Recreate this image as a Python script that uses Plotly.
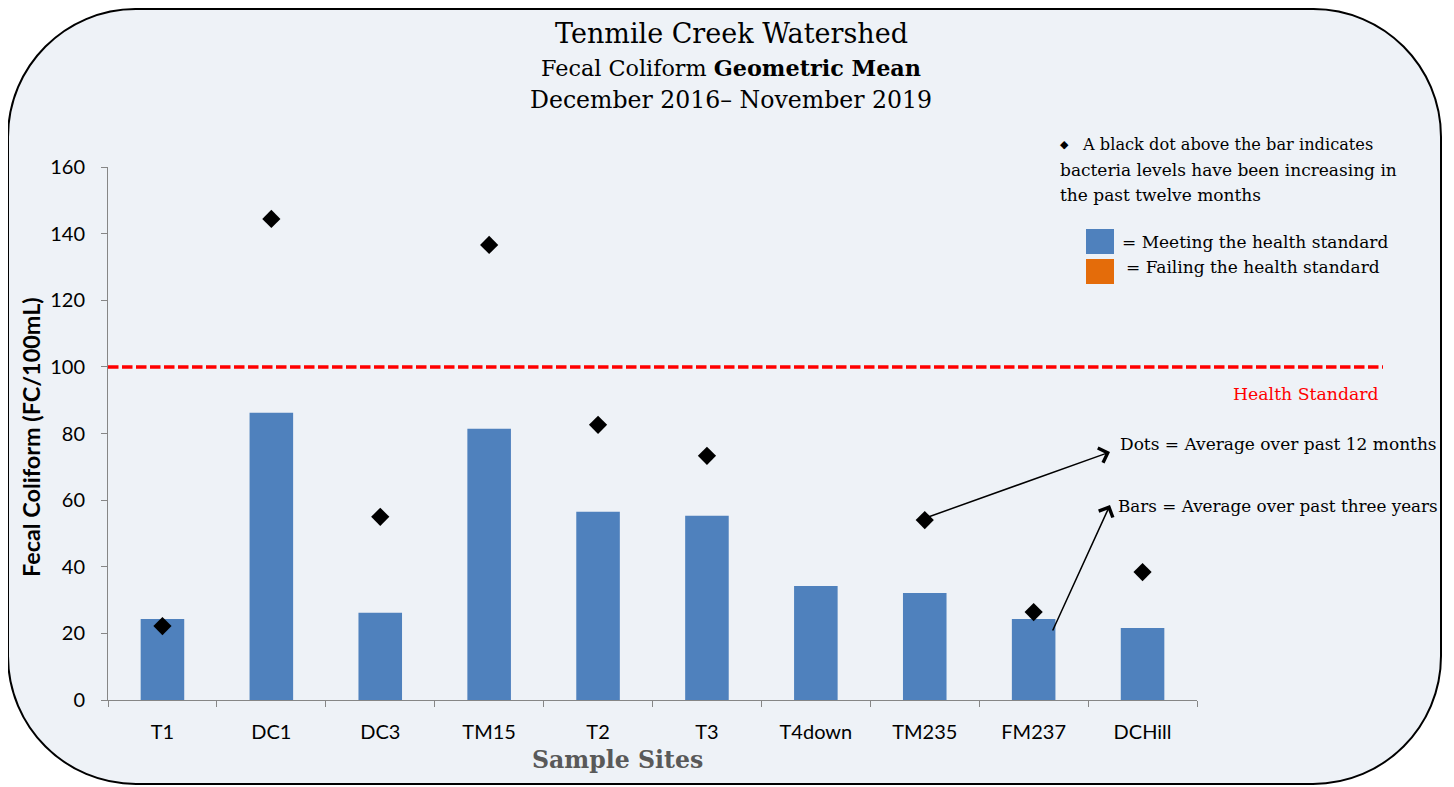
import plotly.graph_objects as go

sites = ["T1", "DC1", "DC3", "TM15", "T2", "T3", "T4down", "TM235", "FM237", "DCHill"]
bars_3yr = [24.3, 86.2, 26.2, 81.4, 56.5, 55.3, 34.2, 32.1, 24.3, 21.6]
dots_12mo = [22.2, 144.4, 55.0, 136.6, 82.6, 73.3, None, 54.0, 26.4, 38.4]
y_ticks = [0, 20, 40, 60, 80, 100, 120, 140, 160]
health_standard = 100

OFF = 8  # page body margin
W, H = 1454 - OFF, 787 - OFF
L, R, T, B = 108, 1197, 167, 700  # plot area in screen pixels


def px(x):
    return (x - L) / (R - L)


def py(y):
    return (B - y) / (B - T)


BLUE = "#4f81bd"
ORANGE = "#e46c0a"
AXIS = "#868686"
SERIF = "DejaVu Serif"
SANS = "Lato"

fig = go.Figure()
fig.add_trace(go.Bar(x=sites, y=bars_3yr, marker=dict(color=BLUE, line=dict(width=0)),
                     width=0.4, showlegend=False, hoverinfo="x+y"))
fig.add_trace(go.Scatter(x=sites, y=dots_12mo, mode="markers",
                         marker=dict(symbol="diamond", color="black", size=14),
                         showlegend=False))

# rounded background frame
x0, x1, y0, y1, r = 8, 1441, 9, 784, 128
k = 0.5523 * r
pts = [
    ("M", [(x0 + r, y0)]),
    ("L", [(x1 - r, y0)]),
    ("C", [(x1 - r + k, y0), (x1, y0 + r - k), (x1, y0 + r)]),
    ("L", [(x1, y1 - r)]),
    ("C", [(x1, y1 - r + k), (x1 - r + k, y1), (x1 - r, y1)]),
    ("L", [(x0 + r, y1)]),
    ("C", [(x0 + r - k, y1), (x0, y1 - r + k), (x0, y1 - r)]),
    ("L", [(x0, y0 + r)]),
    ("C", [(x0, y0 + r - k), (x0 + r - k, y0), (x0 + r, y0)]),
]
path = ""
for cmd, ps in pts:
    path += cmd + " ".join(f"{px(a):.5f},{py(b):.5f}" for a, b in ps) + " "
path += "Z"

shapes = [
    dict(type="path", path=path, xref="paper", yref="paper", layer="below",
         fillcolor="#eef2f7", line=dict(color="black", width=2)),
    dict(type="line", xref="paper", yref="y", x0=0, x1=px(1383), y0=health_standard,
         y1=health_standard, line=dict(color="#ff0000", width=3.5, dash="10.5px,3.5px")),
    dict(type="rect", xref="paper", yref="paper", x0=px(1086), x1=px(1114), y0=py(254), y1=py(229),
         fillcolor=BLUE, line=dict(width=0)),
    dict(type="rect", xref="paper", yref="paper", x0=px(1086), x1=px(1114), y0=py(284), y1=py(259),
         fillcolor=ORANGE, line=dict(width=0)),
]

ann = []


def text(x, y, s, size, color="black", family=SERIF, xanchor="center", **kw):
    ann.append(dict(x=px(x), y=py(y), xref="paper", yref="paper", text=s, showarrow=False,
                    xanchor=xanchor, yanchor="middle", font=dict(size=size, color=color, family=family), **kw))


text(731, 33, "Tenmile Creek Watershed", 27)
text(731, 68, "Fecal Coliform <b>Geometric Mean</b>", 22.3)
text(731, 100, "December 2016– November 2019", 23.6)
text(1058, 145, "◆", 11, xanchor="left")
text(1080, 145, "A black dot above the bar indicates", 16.2, xanchor="left")
text(1058, 170, "bacteria levels have been increasing in", 17, xanchor="left")
text(1058, 195, "the past twelve months", 17, xanchor="left")
text(1120, 242, "= Meeting the health standard", 17, xanchor="left")
text(1124, 267, "= Failing the health standard", 17, xanchor="left")
text(1306, 394, "Health Standard", 17.3, color="#ff0000")
text(1118, 444, "Dots = Average over past 12 months", 17, xanchor="left")
text(1116, 506, "Bars = Average over past three years", 16.8, xanchor="left")
text(617, 760, "<b>Sample Sites</b>", 23.6, color="#595959")
text(31, 437, "<b>Fecal Coliform (FC/100mL)</b>", 23.4, family=SANS, textangle=-90)

# arrows
ann.append(dict(xref="paper", yref="paper", axref="pixel", ayref="pixel",
                x=px(1110), y=py(452), ax=917 - 1110, ay=521 - 452, showarrow=True,
                arrowhead=4, arrowsize=2, arrowwidth=1.5, arrowcolor="black", text=""))
ann.append(dict(xref="paper", yref="paper", axref="pixel", ayref="pixel",
                x=px(1110), y=py(505), ax=1052 - 1110, ay=632 - 505, showarrow=True,
                arrowhead=4, arrowsize=2, arrowwidth=1.5, arrowcolor="black", text=""))

fig.update_layout(
    width=W, height=H,
    margin=dict(l=L - OFF, r=W - (R - OFF), t=T - OFF, b=H - (B - OFF)),
    paper_bgcolor="white", plot_bgcolor="rgba(0,0,0,0)",
    shapes=shapes, annotations=ann,
    xaxis=dict(type="category", categoryorder="array", categoryarray=sites,
               showline=True, linecolor=AXIS, linewidth=1, ticks="outside", ticklen=6,
               tickcolor=AXIS, tickson="boundaries", showgrid=False, zeroline=False,
               tickfont=dict(family=SANS, size=20, color="black"), range=[-0.5, 9.5],
               ticklabelstandoff=14),
    yaxis=dict(range=[0, 160], tickvals=y_ticks, showline=True, linecolor=AXIS, linewidth=1,
               ticks="outside", ticklen=6, tickcolor=AXIS, showgrid=False, zeroline=False,
               tickfont=dict(family=SANS, size=20, color="black"), ticklabelstandoff=12),
)

fig.write_html("out.html")
